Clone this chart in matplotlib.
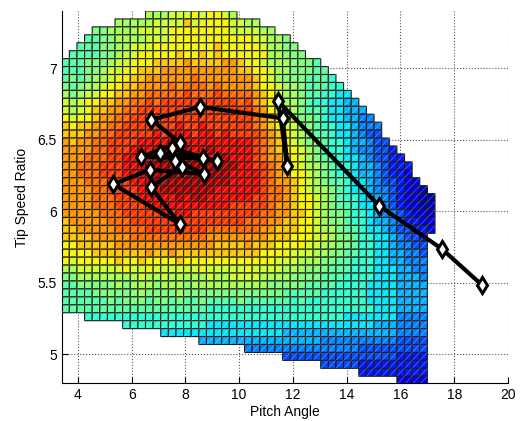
import numpy as np
import matplotlib
matplotlib.use("Agg")
import matplotlib.pyplot as plt
from matplotlib.collections import LineCollection

plt.rcParams['font.family'] = ['Liberation Sans', 'DejaVu Sans']

# colour level of each cell (0..20 -> jet), one string per row from the top, '.' = no data
# columns: pitch cells starting at 3.4 deg, rows: tip speed ratio cells starting at 7.4
levels = "0123456789ABCDEFGHIJK"
cells = [
    "...........BBBCCCDCDDCB..........................",
    ".......BBBBBCCCCECDDDDCCBB.......................",
    "....AABBBBCCCCDDDDDDDDCCCCBB.....................",
    "...99AABBBBCCCDDDDDDDDDDDCCBBA...................",
    "..999AABBCCCDDDDDDDDEDDDDDCBBAA..................",
    ".9999AABCCDDDDDEDDEDEDDDDDDBBAAA.................",
    "999AAABCCDDDEEEEFEEEEFFEDDCBBBAAA9...............",
    "999AABCCDDEEEFFFFFFFFFFEEDDCBBAAA99..............",
    "9A9ABBCDDEEFFFFFFGFFFFFFFEDCBAAA9998.............",
    "A9ABBCDDEEFFFFGFGGGFGFFFFEDDCBBA99988............",
    "BABCCDDEEFFGGGGGHGGGHGGGGFEDCBBA998877...........",
    "CBCDDEEFFGGHGHHHHHHHHHHGHFEDCBBA9887766..........",
    "CBCDEEFFGGHHHHHHHHHHHHHHHGFDDCBA99877666.........",
    "DCDDEFFGGHHHHHHHHHHHHHHHHGFEDCBAA98776655........",
    "EDEEFFGGHHHHHHHIHHIHHHHHHGFEDCCBA988776555.......",
    "EEEFFGGHHHHHIHIIIHIIHIHHHHGFEDCBA998776544.......",
    "FEFFGGHHHHIIIIIIIIIIIIIIIHGFEDCBAA988766544......",
    "FFFFGGHHHIIIIIJIJIIJIIIIIHGFEDDCBA9887655443.....",
    "FFFGGGHHIIIIJJJIJJJIJJIIIHGFFEDCBA99877654433....",
    "FFGGGHHHIIIJJJJJJJJJJJJIIHHGFEDCBBA98876654333...",
    "FFGGGHHHIIIJJJJJJJJJJJIIIIHGFEDDCBA98876654332...",
    "FFFGGGHHHIIIJJJJJJJJJJIIIIHGFFEDCBA998776544322..",
    "FFFFGGHHHHIIIJJJJJJJIIIIIIHGGFEDCBBA987765543221.",
    "FFFFGGGHHHIIIIIJIJJIIIIIIHHGGFEDDCBA9887665432211",
    "FFFFGGGHHHHIIIIIIIIIIIHHHHHGFFEDDCBA9987765432211",
    "FFFFFGGGHHHHHIHIIHHHHHHHHHGGFFEEDCBAA988765543221",
    "EFFFFFGGGHHHHHHHHHHHHHHHGGGFFEEDDCBAA988766543322",
    "EEFFFFFGGGGHHHHHHHHGGGGGGGFFEEEDDCBBA998776544332",
    "EEEEFFFFFGGGGGGGGGGFFFFFFFFEEEDDDCCBAA9887765443.",
    "DDEEEEEFFFFFFFFFFFFFEEEEFEEEDDDDCCBBAA9887765544.",
    "DDDDEEEEEEEFEEFEEEEEEEEEEEDDDDCCCBBAA99887766554.",
    "DCDDDDDEDDEDDDDEDDDDDDDDDDDDCCCBBBAA998887766555.",
    "BBCCCCCCDCCDCCCCCCDCCCCCDCCCCBBBAAA9998887776655.",
    "AABBBBBBBBCBBCBBBBBCBBCCCCBBBBAAAA99988887776665.",
    "99AAAAABABBBABBBABBBBBBBBBBAAAAA9999888877776666.",
    "9999AAAAAABAAAABAAAAAAAAAAAAA9999988888877776666.",
    "999999A9AAA9AA9A99A9999A999999898888888877776666.",
    "9999999999" "999999999" "8888888888" "8888888888" "88" "7776666.",
    "..." "8888888888" "8888888888" "8888888888" "8888" "7777777" "5555.",
    "........" "8888888888" "8" "7777777777" "7777777777" "77" "666" "5555.",
    "............." "7777777777" "777777" "6666666666" "66666" "5555.",
    ".........." "........" "6666666666" "666666" "5555555555" "4444.",
    ".........." ".........." "...." "5555555555" "55555" "444444444.",
    ".........." ".........." "........." "4444444444" "44444" "3333.",
    ".........." ".........." ".........." "...." "44444" "333333333.",
    ".........." ".........." ".........." "........." "333333333.",
    ".........." ".........." ".........." ".........." "...." "2222.",
]

# optimiser path (pitch angle, tip speed ratio)
pitch = [19.03, 17.54, 15.20, 11.45, 11.79, 11.62, 8.55, 6.73, 7.80, 6.34, 8.67,
         7.49, 9.17, 7.06, 8.70, 6.69, 5.32, 7.80, 6.71, 7.87, 7.60]
tsr = [5.485, 5.737, 6.04, 6.77, 6.32, 6.65, 6.73, 6.64, 6.48, 6.38, 6.37,
       6.44, 6.35, 6.41, 6.26, 6.29, 6.19, 5.91, 6.17, 6.31, 6.35]

ncol = 49
Z = np.full((len(cells), ncol), np.nan)
for j, row in enumerate(cells):
    row = row.ljust(ncol, '.')[:ncol]
    for i, ch in enumerate(row):
        if ch != '.':
            Z[j, i] = levels.index(ch)
Z = np.ma.masked_invalid(Z)

dx = 17.0 / 60
dy = 0.0555
xe = 3.4 + dx * np.arange(ncol + 1)
ye = 7.4 - dy * np.arange(len(cells) + 1)

fig = plt.figure(figsize=(5.24, 4.21), dpi=100)
ax = fig.add_axes([0.1178, 0.0903, 0.8517, 0.8836])

ax.grid(True, linestyle=':', color='0.35', linewidth=0.8)
ax.set_axisbelow(True)

ax.pcolor(xe, ye, Z, cmap='jet', vmin=0, vmax=20,
          edgecolors='0.1', linewidth=0.8, zorder=2)

# faint diagonal in each cell (triangulated surface look)
segs = []
for j in range(Z.shape[0]):
    for i in range(Z.shape[1]):
        if not Z.mask[j, i]:
            segs.append([(xe[i], ye[j + 1]), (xe[i + 1], ye[j])])
ax.add_collection(LineCollection(segs, colors='white', linewidths=0.5,
                                 alpha=0.35, zorder=3))

ax.plot(pitch, tsr, color='black', linewidth=3, marker='d', markersize=8.5,
        markerfacecolor='white', markeredgecolor='black', markeredgewidth=2.2,
        zorder=5)

ax.set_xlim(3.4, 20)
ax.set_ylim(4.8, 7.4)
ax.set_xticks([4, 6, 8, 10, 12, 14, 16, 18, 20])
ax.set_yticks([5, 5.5, 6, 6.5, 7])
ax.set_yticklabels(['5', '5.5', '6', '6.5', '7'])
ax.tick_params(direction='in', length=4, labelsize=10, top=False, right=False)
ax.spines['top'].set_visible(False)
ax.spines['right'].set_visible(False)
ax.set_xlabel('Pitch Angle', fontsize=10, labelpad=2)
ax.set_ylabel('Tip Speed Ratio', fontsize=10, labelpad=6)

fig.savefig('out.png', dpi=100)
